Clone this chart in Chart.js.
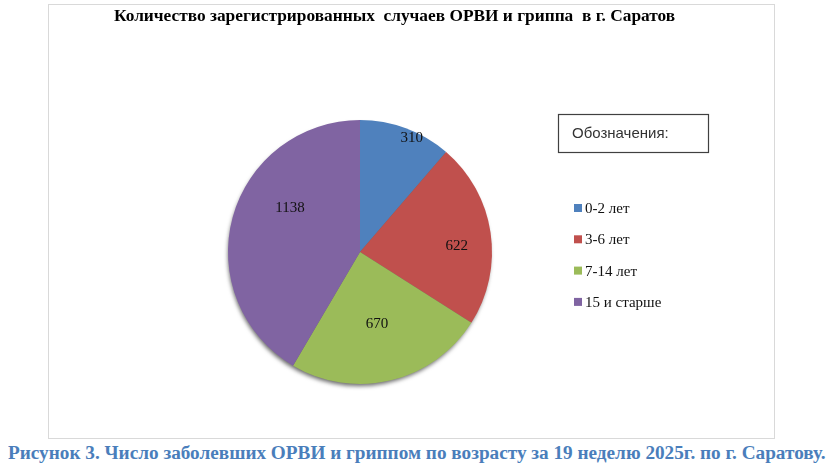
<!DOCTYPE html>
<html lang="ru">
<head>
  <meta charset="UTF-8">
  <title>Количество зарегистрированных случаев ОРВИ и гриппа</title>
  <script src="https://cdn.jsdelivr.net/npm/chart.js"></script>
  <style>
    body {
      margin: 0;
      background: #ffffff;
      width: 834px;
      height: 473px;
      position: relative;
      overflow: hidden;
    }

    #box {
      position: absolute;
      left: 48px;
      top: 4px;
      width: 727px;
      height: 435px;
      border: 1px solid #d9d9d9;
      box-sizing: border-box;
    }

    #box canvas {
      position: absolute;
      left: 0;
      top: 0;
    }

    .fit {
      position: absolute;
      white-space: nowrap;
      font-family: "Liberation Serif", "DejaVu Serif", serif;
      font-weight: bold;
      transform-origin: 0 50%;
      line-height: 1;
    }

    #title {
      left: 114px;
      top: 8px;
      font-size: 16px;
      color: #000000;
    }

    #caption {
      left: 8px;
      top: 444px;
      font-size: 18px;
      color: #4a7ebb;
    }
  </style>
</head>
<body>

  <div id="box">
    <canvas id="pieChart" width="725" height="433"></canvas>
  </div>
  <div id="title" class="fit" data-w="561">Количество зарегистрированных&nbsp; случаев ОРВИ и гриппа&nbsp; в г. Саратов</div>
  <div id="caption" class="fit" data-w="818">Рисунок 3. Число заболевших ОРВИ и гриппом по возрасту за 19 неделю 2025г. по г. Саратову.</div>

  <script>
    const categories = ['0-2 лет', '3-6 лет', '7-14 лет', '15 и старше'];
    const cases = [310, 622, 670, 1138];
    const colors = ['#4f81bd', '#c0504d', '#9bbb59', '#8064a2'];

    // где Excel поставил подписи: доля радиуса и сдвиг угла (градусы)
    const labelRadius = [0.955, 0.735, 0.55, 0.63];
    const labelShift = [3.9, 4.3, 0, 17.5];

    // сжимаем заголовки по ширине, как в оригинале
    document.querySelectorAll('.fit').forEach(el => {
      const w = +el.dataset.w;
      el.style.transform = `scaleX(${w / el.scrollWidth})`;
    });

    const pieShadow = {
      id: 'pieShadow',
      beforeDatasetsDraw(chart) {
        const arc = chart.getDatasetMeta(0).data[0];
        if (!arc) return;
        const { x, y, outerRadius } = arc.getProps(['x', 'y', 'outerRadius'], true);
        const ctx = chart.ctx;
        ctx.save();
        ctx.shadowColor = 'rgba(0,0,0,0.6)';
        ctx.shadowBlur = 4;
        ctx.shadowOffsetX = -1;
        ctx.shadowOffsetY = 3;
        ctx.beginPath();
        ctx.arc(x, y, outerRadius - 1, 0, Math.PI * 2);
        ctx.fillStyle = '#666';
        ctx.fill();
        ctx.restore();
      }
    };

    const sliceLabels = {
      id: 'sliceLabels',
      afterDatasetsDraw(chart) {
        const ctx = chart.ctx;
        ctx.save();
        ctx.font = '15px "Liberation Serif", serif';
        ctx.fillStyle = '#111';
        ctx.textAlign = 'center';
        ctx.textBaseline = 'middle';
        chart.getDatasetMeta(0).data.forEach((arc, i) => {
          const p = arc.getProps(['x', 'y', 'startAngle', 'endAngle', 'outerRadius'], true);
          const a = (p.startAngle + p.endAngle) / 2 + labelShift[i] * Math.PI / 180;
          const r = p.outerRadius * labelRadius[i];
          ctx.fillText(String(chart.data.datasets[0].data[i]), p.x + Math.cos(a) * r, p.y + Math.sin(a) * r + 1);
        });
        ctx.restore();
      }
    };

    const boxLegend = {
      id: 'boxLegend',
      afterDraw(chart) {
        const ctx = chart.ctx;
        ctx.save();
        // рамка "Обозначения:"
        ctx.strokeStyle = '#404040';
        ctx.lineWidth = 1.2;
        ctx.strokeRect(509.5, 109.5, 150, 38);
        ctx.font = '15px "Liberation Sans", Arial, sans-serif';
        ctx.fillStyle = '#333';
        ctx.textBaseline = 'middle';
        ctx.fillText('Обозначения:', 523, 129);

        ctx.font = '15px "Liberation Serif", serif';
        chart.data.labels.forEach((lbl, i) => {
          const y = 203 + i * 31.3;
          ctx.fillStyle = chart.data.datasets[0].backgroundColor[i];
          ctx.fillRect(525, y - 4, 8, 8);
          ctx.fillStyle = '#111';
          ctx.fillText(lbl, 536, y + 1);
        });
        ctx.restore();
      }
    };

    const ctx = document.getElementById('pieChart').getContext('2d');
    new Chart(ctx, {
      type: 'pie',
      data: {
        labels: categories,
        datasets: [{
          data: cases,
          backgroundColor: colors,
          borderWidth: 0
        }]
      },
      options: {
        responsive: false,
        animation: false,
        layout: {
          padding: { left: 179, right: 282, top: 115, bottom: 54 }
        },
        plugins: {
          legend: { display: false },
          title: { display: false },
          tooltip: { enabled: false }
        }
      },
      plugins: [pieShadow, sliceLabels, boxLegend]
    });
  </script>

</body>
</html>
